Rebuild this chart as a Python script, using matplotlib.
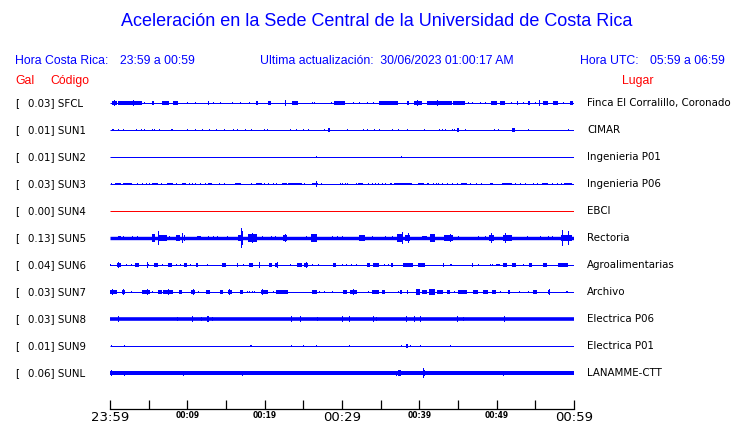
import matplotlib
matplotlib.use("Agg")
import matplotlib.pyplot as plt

# ---------------- data ----------------
codes = ["SFCL", "SUN1", "SUN2", "SUN3", "SUN4", "SUN5", "SUN6", "SUN7", "SUN8", "SUN9", "SUNL"]
gal = ["0.03", "0.01", "0.01", "0.03", "0.00", "0.13", "0.04", "0.03", "0.03", "0.01", "0.06"]
places = ["Finca El Corralillo, Coronado", "CIMAR", "Ingenieria P01", "Ingenieria P06", "EBCI",
          "Rectoria", "Agroalimentarias", "Archivo", "Electrica P06", "Electrica P01", "LANAMME-CTT"]
trace_colors = ["blue", "blue", "blue", "blue", "red", "blue", "blue", "blue", "blue", "blue", "blue"]
# background noise half-amplitude of each trace (display px)
noise = [0.5, 0.5, 0.5, 0.5, 0.5, 1.7, 0.5, 0.5, 1.8, 0.5, 2.0]

time_ticks = [0, 5, 10, 15, 20, 25, 30, 35, 40, 45, 50, 55, 60]          # minutes after 23:59
time_labels = ["23:59", "", "00:09", "", "00:19", "", "00:29", "", "00:39", "", "00:49", "", "00:59"]

# events: (start minute, end minute, half-amplitude in display px)
ev_SFCL = [(0.22, 0.86, 2), (0.52, 0.52, 3.5), (1.08, 4.09, 2), (3.0, 3.0, 3), (4.44, 4.44, 1.5),
           (5.39, 5.73, 2), (6.77, 7.63, 2), (8.19, 8.75, 2), (9.91, 9.91, 1), (10.99, 10.99, 1.5),
           (12.63, 12.63, 2), (13.36, 13.36, 1.5), (14.22, 14.22, 1.5), (15.73, 15.73, 1.5),
           (16.81, 16.81, 1), (17.97, 17.97, 1.5), (18.84, 19.18, 2), (20.47, 20.82, 2),
           (22.63, 22.63, 3), (23.58, 24.35, 2), (26.08, 26.08, 1), (26.42, 26.42, 1),
           (28.53, 28.53, 1.5), (29.0, 30.4, 2), (31.47, 31.47, 1), (32.2, 32.2, 1.5),
           (33.19, 33.19, 1), (34.05, 34.05, 1.5), (34.78, 37.28, 2), (38.36, 38.66, 2),
           (39.35, 40.3, 2), (39.66, 39.66, 3.5), (40.95, 44.18, 2), (42.24, 42.24, 3),
           (44.4, 45.9, 2), (46.25, 46.25, 1), (46.77, 46.77, 1), (47.84, 47.84, 1),
           (48.49, 48.49, 1.5), (49.27, 50.0, 2), (50.43, 51.08, 2), (51.85, 51.85, 1.5),
           (52.59, 52.8, 2), (53.45, 53.45, 1.5), (54.09, 54.31, 2), (54.96, 54.96, 1.5),
           (55.52, 55.52, 3), (56.03, 56.68, 2), (57.33, 57.97, 2), (58.62, 58.62, 1.5),
           (59.48, 59.91, 2)]
ev_SUN1 = [(0.22, 0.52, 1.5), (1.08, 1.08, 1.5), (1.72, 1.72, 1.5), (3.32, 3.32, 1.5), (4.01, 4.01, 1.5),
           (4.44, 4.44, 1.5), (5.39, 5.39, 1.5), (5.73, 5.73, 1.5), (6.38, 6.38, 1.5), (7.89, 8.19, 1.7),
           (9.91, 9.91, 1), (10.99, 10.99, 1.5), (11.85, 11.85, 1), (12.8, 12.8, 1), (13.71, 13.71, 1.5),
           (14.78, 14.78, 1.5), (15.95, 15.95, 1.5), (16.47, 16.47, 1.5), (17.46, 17.46, 1),
           (18.23, 18.23, 1), (19.96, 19.96, 1.5), (20.34, 20.34, 1), (23.28, 23.28, 1),
           (24.01, 24.01, 1.5), (25.0, 25.0, 1.5), (25.56, 25.56, 1.5), (27.72, 27.72, 1),
           (28.15, 28.45, 2), (30.6, 30.6, 1.5), (32.76, 32.76, 1.5), (33.19, 33.19, 1),
           (34.18, 34.18, 1.5), (34.83, 34.83, 1.5), (36.51, 36.51, 1.5), (37.28, 37.28, 1),
           (38.36, 38.36, 1.5), (40.65, 40.65, 1.5), (42.59, 42.59, 1.5), (42.89, 42.89, 1),
           (43.32, 43.32, 1.5), (44.18, 44.18, 1), (44.48, 44.48, 1.5), (44.83, 45.13, 2),
           (45.91, 45.91, 1.5), (49.7, 49.7, 1.5), (50.22, 50.22, 1.5), (51.94, 52.37, 2),
           (54.09, 54.09, 1.5), (59.18, 59.18, 1.5)]
ev_SUN2 = [(26.68, 26.68, 1.3), (37.67, 37.67, 1.5)]
ev_SUN3 = [(0.13, 0.3, 1.5), (0.65, 1.42, 1.5), (1.72, 2.8, 1.5), (3.45, 3.45, 1), (4.18, 4.18, 1),
           (4.61, 4.61, 1), (5.04, 5.04, 1), (5.39, 6.25, 1.7), (6.59, 6.59, 1.5), (7.33, 8.19, 1.5),
           (8.53, 8.53, 1), (9.35, 9.78, 1.7), (10.26, 10.26, 1), (10.65, 10.65, 1.5), (10.99, 10.99, 1),
           (11.64, 11.64, 1.5), (12.28, 12.28, 1.5), (12.72, 13.23, 1.5), (14.14, 14.14, 1),
           (14.78, 14.78, 1), (16.16, 16.94, 1.5), (18.19, 18.19, 1.5), (18.88, 19.61, 1.7),
           (19.96, 19.96, 1), (20.39, 20.39, 1.5), (21.12, 21.12, 1), (21.47, 21.47, 1),
           (22.28, 22.84, 1.5), (23.06, 24.78, 1.3), (25.13, 25.13, 1), (26.08, 26.94, 1.5),
           (26.68, 26.68, 3.5), (27.28, 27.28, 1), (29.74, 29.74, 1), (30.04, 30.04, 1),
           (30.39, 30.39, 1), (30.69, 30.69, 1), (31.77, 31.77, 1), (32.11, 32.76, 1.5),
           (33.41, 33.41, 1), (33.84, 33.84, 1.5), (34.27, 34.27, 1), (34.7, 34.7, 1.5),
           (35.13, 35.13, 1), (35.56, 35.56, 1.5), (36.21, 36.42, 1.5), (36.77, 39.01, 1.5),
           (39.78, 40.65, 1.5), (40.99, 41.25, 1.5), (41.81, 41.81, 1), (42.11, 42.11, 1.5),
           (42.46, 42.46, 1), (42.89, 42.89, 1.5), (43.53, 43.53, 1), (44.27, 44.27, 1),
           (44.83, 44.83, 1), (45.39, 46.12, 1.5), (46.55, 46.55, 1), (47.28, 47.28, 1),
           (47.97, 47.97, 1), (49.14, 49.48, 1.5), (50.65, 51.94, 1.5), (52.37, 52.37, 1),
           (53.02, 53.02, 1), (53.66, 53.66, 1), (54.74, 54.74, 1), (55.22, 55.22, 1),
           (55.91, 56.68, 1.5), (57.11, 57.11, 1), (57.76, 57.76, 1), (58.32, 58.32, 1),
           (58.75, 59.7, 1.5), (59.96, 59.96, 1.5)]
ev_SUN4 = []
ev_SUN5 = [(0.99, 1.42, 2.5), (1.72, 1.72, 2), (2.8, 2.8, 2), (3.45, 3.45, 2), (5.47, 5.82, 4.5),
           (6.16, 6.16, 8), (6.38, 7.33, 4), (7.63, 7.63, 2.5), (8.49, 9.05, 3), (9.35, 9.35, 5.5),
           (9.53, 9.53, 3), (11.21, 11.72, 2.5), (12.72, 12.72, 2), (13.36, 13.36, 2), (13.79, 13.79, 2),
           (15.09, 15.09, 2.5), (16.51, 17.11, 4), (16.9, 16.9, 12), (17.03, 17.03, 8),
           (17.89, 18.97, 5), (18.32, 18.32, 6), (19.61, 19.61, 2.5), (20.78, 20.78, 2),
           (21.34, 21.34, 2), (22.41, 22.84, 4), (22.63, 22.63, 5), (25.34, 25.34, 2.5),
           (25.99, 26.72, 4.5), (28.66, 28.66, 2.5), (29.31, 29.31, 2), (30.04, 30.04, 2),
           (32.2, 32.97, 3), (33.84, 33.84, 2), (35.56, 35.56, 2), (36.42, 36.42, 2),
           (37.07, 37.93, 5), (37.72, 37.72, 7), (38.15, 38.79, 4), (38.58, 38.58, 6),
           (40.3, 40.95, 2.5), (41.38, 42.03, 4.5), (43.23, 44.4, 3.5), (43.97, 43.97, 4.5),
           (45.04, 45.04, 2), (47.63, 47.63, 2), (48.49, 48.49, 2.5), (49.05, 49.7, 4),
           (49.27, 49.27, 6), (50.86, 52.03, 4), (51.08, 51.08, 5.5), (53.88, 53.88, 2),
           (55.6, 55.6, 2.5), (56.68, 56.68, 2.5), (57.11, 57.11, 2), (58.32, 59.7, 4),
           (58.41, 58.41, 9), (59.27, 59.27, 8)]
ev_SUN6 = [(0.0, 0.0, 1.5), (0.86, 1.42, 2), (1.08, 1.08, 3), (2.03, 2.03, 1.5), (2.72, 2.72, 1),
           (3.23, 3.75, 2), (4.74, 4.74, 3.5), (4.96, 4.96, 1.5), (5.73, 6.25, 2), (6.77, 6.77, 1.5),
           (7.54, 7.97, 2), (8.49, 8.49, 1.5), (9.05, 9.05, 1.5), (9.61, 9.91, 2), (10.34, 10.34, 1.5),
           (11.08, 11.34, 2), (12.59, 12.59, 1), (14.53, 14.96, 2), (16.38, 16.38, 2.5),
           (17.24, 17.24, 1.5), (17.97, 18.53, 2), (19.31, 19.31, 3), (20.6, 20.91, 2),
           (21.34, 21.77, 2), (21.55, 21.55, 3), (23.28, 23.28, 1), (24.14, 24.78, 2),
           (25.09, 25.56, 2), (25.34, 25.34, 3), (26.08, 26.08, 1), (26.94, 26.94, 1),
           (28.88, 29.18, 2), (29.96, 29.96, 1.5), (30.52, 30.52, 1.5), (31.12, 31.12, 1.5),
           (31.77, 31.77, 1.5), (33.28, 33.62, 2.5), (34.05, 34.78, 2), (35.47, 35.47, 1.5),
           (35.91, 35.91, 1.5), (36.34, 36.64, 2), (37.84, 39.22, 2), (39.87, 40.73, 2),
           (43.02, 43.23, 2), (43.97, 44.18, 1.5), (46.77, 46.98, 2), (47.63, 47.63, 1.5),
           (49.14, 49.14, 1.5), (49.44, 49.44, 1.5), (49.87, 50.43, 1.5), (50.86, 51.29, 2),
           (52.03, 52.46, 2), (53.45, 53.45, 1.5), (54.18, 54.53, 2), (56.03, 56.47, 2),
           (57.89, 59.27, 2)]
ev_SUN7 = [(0.0, 0.86, 2.5), (0.22, 0.22, 3), (1.51, 1.94, 2.5), (1.72, 1.72, 3), (2.72, 2.72, 1),
           (4.18, 5.17, 2.5), (4.74, 4.74, 3.5), (5.39, 5.39, 1), (6.25, 6.68, 2), (6.9, 8.19, 2.5),
           (7.54, 7.54, 3), (8.92, 9.27, 2), (10.47, 10.99, 2), (10.78, 10.78, 3), (11.42, 11.42, 1),
           (12.41, 12.93, 2), (14.22, 14.66, 2), (15.22, 15.73, 2.5), (15.39, 15.39, 3),
           (16.81, 17.24, 2), (17.67, 17.67, 1.5), (18.02, 18.02, 1.5), (18.32, 18.32, 1.5),
           (18.66, 18.66, 1.5), (19.53, 20.47, 2.5), (19.7, 19.7, 3.5), (21.12, 21.12, 1),
           (21.42, 23.06, 2), (26.16, 26.72, 2), (27.03, 27.03, 1.5), (27.67, 27.67, 1.5),
           (28.66, 28.66, 1), (30.17, 30.6, 2), (31.03, 31.9, 2.5), (31.47, 31.47, 3.5),
           (33.41, 33.41, 1.5), (33.84, 34.78, 2), (35.13, 35.56, 2), (37.2, 37.2, 1),
           (37.5, 37.72, 2), (38.36, 38.58, 2), (39.53, 40.09, 3), (39.78, 39.78, 3.5),
           (40.3, 40.95, 2), (41.25, 42.03, 3), (41.51, 41.51, 3.5), (42.24, 43.1, 2),
           (43.53, 43.97, 2), (44.53, 44.53, 1.5), (45.04, 46.12, 2), (46.98, 47.63, 2.5),
           (48.28, 48.84, 2), (49.35, 49.87, 2), (50.43, 50.43, 1.5), (51.42, 51.72, 2),
           (52.89, 52.89, 1), (54.09, 54.09, 1), (54.74, 55.17, 2), (56.68, 56.9, 2.5),
           (56.8, 56.8, 3), (58.92, 59.18, 1.5)]
ev_SUN8 = [(1.08, 1.08, 3), (8.62, 8.62, 2.5), (10.56, 10.56, 3), (11.72, 11.72, 2.5), (12.5, 12.8, 3),
           (13.15, 13.15, 2.5), (23.36, 23.36, 3), (24.57, 24.57, 3), (26.72, 26.72, 2.5),
           (29.96, 29.96, 3), (30.91, 30.91, 3), (34.05, 34.05, 3), (34.35, 34.35, 2.5),
           (38.28, 38.28, 3), (39.31, 39.31, 3), (40.09, 40.09, 4), (44.83, 44.83, 3),
           (45.69, 45.69, 2.5), (50.99, 50.99, 3)]
ev_SUN9 = [(0.13, 0.13, 1.5), (1.85, 1.85, 1), (18.1, 18.32, 1.5), (23.41, 23.41, 1), (25.0, 25.0, 1),
           (26.59, 26.59, 1), (30.95, 30.95, 1), (37.63, 37.63, 1.5), (38.23, 38.49, 2),
           (38.79, 38.79, 1), (40.09, 40.09, 1.5), (44.01, 44.01, 1)]
ev_SUNL = [(0.13, 0.13, 3), (1.85, 1.85, 2.5), (9.48, 9.48, 2.5), (17.11, 17.11, 2.5),
           (36.94, 36.94, 2.5), (37.28, 37.59, 3), (40.43, 40.43, 5.5), (40.65, 40.65, 3),
           (50.86, 50.86, 2.5)]
events = [ev_SFCL, ev_SUN1, ev_SUN2, ev_SUN3, ev_SUN4, ev_SUN5, ev_SUN6, ev_SUN7, ev_SUN8, ev_SUN9, ev_SUNL]

# ---------------- figure ----------------
W, H = 740, 423
fig = plt.figure(figsize=(W / 100, H / 100), dpi=100)
fig.patch.set_facecolor("white")

def fx(px):
    return px / W

def fy(py):
    return 1 - py / H

HEAD = ["Liberation Sans", "DejaVu Sans"]
BODY = ["DejaVu Sans"]
HS = 8.8

fig.text(fx(377), fy(22), "Aceleración en la Sede Central de la Universidad de Costa Rica",
         family=HEAD, fontsize=13, color="blue", ha="center", va="center")
fig.text(fx(15), fy(61), "Hora Costa Rica:", family=HEAD, fontsize=HS, color="blue", ha="left", va="center")
fig.text(fx(120), fy(61), "23:59 a 00:59", family=HEAD, fontsize=HS, color="blue", ha="left", va="center")
fig.text(fx(260), fy(61), "Ultima actualización:  30/06/2023 01:00:17 AM", family=HEAD, fontsize=HS,
         color="blue", ha="left", va="center")
fig.text(fx(580), fy(61), "Hora UTC:", family=HEAD, fontsize=HS, color="blue", ha="left", va="center")
fig.text(fx(725), fy(61), "05:59 a 06:59", family=HEAD, fontsize=HS, color="blue", ha="right", va="center")
fig.text(fx(15), fy(81), "Gal", family=HEAD, fontsize=HS, color="red", ha="left", va="center")
fig.text(fx(50), fy(81), "Código", family=HEAD, fontsize=HS, color="red", ha="left", va="center")
fig.text(fx(622), fy(81), "Lugar", family=HEAD, fontsize=HS, color="red", ha="left", va="center")

ROW0, DY = 103, 27
n = len(codes)
for i in range(n):
    yc = ROW0 + DY * i
    fig.text(fx(15), fy(yc), "[", family=BODY, fontsize=7.4, color="black", ha="left", va="center")
    fig.text(fx(27.5), fy(yc), f"{gal[i]}] {codes[i]}", family=BODY, fontsize=7.4, color="black",
             ha="left", va="center")
    fig.text(fx(587), fy(yc), places[i], family=BODY, fontsize=7.4, color="black", ha="left", va="center")

# trace axes: x in minutes, y in row units (1 row = DY px)
X0, X1 = 110, 574
ax = fig.add_axes([fx(X0), fy(ROW0 + DY * (n - 0.5)), (X1 - X0) / W, DY * n / H])
ax.set_xlim(0, 60)
ax.set_ylim(n - 0.5, -0.5)
ax.axis("off")
px_min = 60 / (X1 - X0)   # minutes per pixel
AMP_SCALE = 0.85
for i in range(n):
    c = trace_colors[i]
    lw = max(2 * noise[i], 1.0) * 0.72
    ax.plot([0, 60], [i, i], color=c, lw=lw, solid_capstyle="butt")
    for (t0, t1, a) in events[i]:
        w = max(t1 - t0, px_min)
        h = max(a * AMP_SCALE, noise[i] + 0.5) / DY
        ax.bar(t0, 2 * h, width=w, bottom=i - h, align="edge", color=c, linewidth=0)

# time axis
tax = fig.add_axes([fx(X0), fy(409), (X1 - X0) / W, 0.001])
tax.set_xlim(0, 60)
tax.set_ylim(0, 1)
for s in ["top", "left", "right"]:
    tax.spines[s].set_visible(False)
tax.spines["bottom"].set_linewidth(0.9)
tax.set_yticks([])
tax.set_xticks(time_ticks)
tax.set_xticklabels(time_labels)
tax.tick_params(axis="x", direction="in", length=6.5, width=0.9, pad=1.5)
for lab in tax.get_xticklabels():
    if lab.get_text() in ("23:59", "00:29", "00:59"):
        lab.set_fontsize(9.5)
    else:
        lab.set_fontsize(5.5)
        lab.set_fontweight("bold")
    lab.set_family(BODY)

fig.savefig("out.png", dpi=100, facecolor="white")
